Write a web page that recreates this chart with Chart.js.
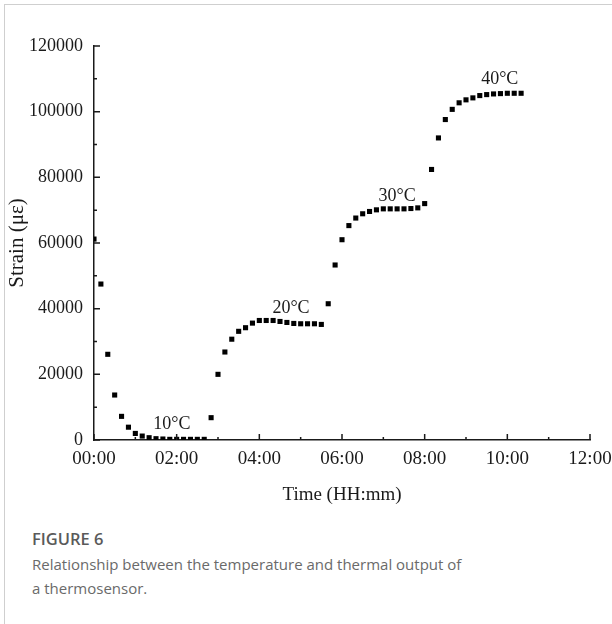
<!DOCTYPE html>
<html>
<head>
<meta charset="utf-8">
<script src="https://cdn.jsdelivr.net/npm/chart.js@4.4.1/dist/chart.umd.min.js"></script>
<style>
  html, body { margin: 0; padding: 0; background: #fff; }
  body { width: 612px; height: 624px; position: relative; overflow: hidden; }
  .frame { position: absolute; left: 4px; top: 4px; right: 0; bottom: 0; border-left: 1px solid #cfcfcf; border-top: 1px solid #cfcfcf; }
  #wrap { position: absolute; left: 0; top: 0; width: 612px; height: 510px; }
  .caption { position: absolute; left: 32px; top: 528px; font-family: "Open Sans", sans-serif; color: #6a6a6a; }
  .caption .fig { font-size: 16.5px; font-weight: 600; color: #5a5a5a; line-height: 22px; }
  .caption .txt { font-size: 15px; line-height: 24px; margin-top: 2px; }
</style>
</head>
<body>
<div class="frame"></div>
<div id="wrap"><canvas id="strainChart" width="612" height="510"></canvas></div>
<div class="caption">
  <div class="fig">FIGURE 6</div>
  <div class="txt">Relationship between the temperature and thermal output of<br>a thermosensor.</div>
</div>
<script>
// time in minutes since start, strain in micro-strain
const times = [0, 10, 20, 30, 40, 50, 60, 70, 80, 90, 100, 110, 120, 130, 140, 150, 160,
    170, 180, 190, 200, 210, 220, 230, 240, 250, 260, 270, 280, 290, 300, 310, 320, 330,
    340, 350, 360, 370, 380, 390, 400, 410, 420, 430, 440, 450, 460, 470, 480,
    490, 500, 510, 520, 530, 540, 550, 560, 570, 580, 590, 600, 610, 620];
const strain = [61200, 47500, 26100, 13700, 7200, 3900, 2000, 1200, 700, 400, 300, 200, 200, 200, 200, 200, 200,
    6800, 20000, 26800, 30700, 33100, 34200, 35600, 36400, 36400, 36400, 36100, 35800, 35500, 35400, 35400, 35400, 35200,
    41500, 53300, 61000, 65300, 67600, 68900, 69600, 70100, 70400, 70400, 70400, 70400, 70500, 70700, 72000,
    82400, 92000, 97600, 100700, 102700, 103600, 104200, 104900, 105200, 105400, 105500, 105600, 105600, 105600];

const xTickLabels = ['00:00', '02:00', '04:00', '06:00', '08:00', '10:00', '12:00'];
const yTickLabels = ['0', '20000', '40000', '60000', '80000', '100000', '120000'];

// temperature labels, placed in data coordinates
const tempLabels = ['10°C', '20°C', '30°C', '40°C'];
const tempLabelTimes = [113, 286, 440, 589];
const tempLabelStrains = [4900, 40000, 74200, 110000];

const ink = '#1a1a1a';
Chart.defaults.font.family = '"Liberation Serif", "Times New Roman", serif';
Chart.defaults.color = ink;

// ticks drawn inside the axes, majors plus a minor between each pair
const inwardTicks = {
    id: 'inwardTicks',
    afterDraw(chart) {
        const { ctx, chartArea, scales } = chart;
        const x = scales.x, y = scales.y;
        ctx.save();
        ctx.strokeStyle = ink;
        ctx.lineWidth = 1.5;
        ctx.beginPath();
        x.ticks.forEach((t, i) => {
            const px = x.getPixelForValue(t.value);
            ctx.moveTo(px, chartArea.bottom);
            ctx.lineTo(px, chartArea.bottom - 6);
            if (i < x.ticks.length - 1) {
                const mx = x.getPixelForValue((t.value + x.ticks[i + 1].value) / 2);
                ctx.moveTo(mx, chartArea.bottom);
                ctx.lineTo(mx, chartArea.bottom - 3);
            }
        });
        y.ticks.forEach((t, i) => {
            const py = y.getPixelForValue(t.value);
            ctx.moveTo(chartArea.left, py);
            ctx.lineTo(chartArea.left + 6, py);
            if (i < y.ticks.length - 1) {
                const my = y.getPixelForValue((t.value + y.ticks[i + 1].value) / 2);
                ctx.moveTo(chartArea.left, my);
                ctx.lineTo(chartArea.left + 3, my);
            }
        });
        ctx.stroke();
        ctx.restore();
    }
};

const tempText = {
    id: 'tempText',
    afterDatasetsDraw(chart) {
        const { ctx, scales } = chart;
        ctx.save();
        ctx.font = '18px "Liberation Serif", serif';
        ctx.fillStyle = ink;
        ctx.textAlign = 'center';
        ctx.textBaseline = 'middle';
        tempLabels.forEach((txt, i) => {
            ctx.fillText(txt, scales.x.getPixelForValue(tempLabelTimes[i]), scales.y.getPixelForValue(tempLabelStrains[i]));
        });
        ctx.restore();
    }
};

const ctx = document.getElementById('strainChart').getContext('2d');
new Chart(ctx, {
    type: 'scatter',
    data: {
        datasets: [{
            data: times.map((t, i) => ({ x: t, y: strain[i] })),
            backgroundColor: '#000',
            borderWidth: 0,
            pointStyle: 'rect',
            pointRadius: 3.6,
            pointBorderWidth: 0,
            showLine: false
        }]
    },
    options: {
        responsive: false,
        animation: false,
        layout: { padding: { top: 46, right: 22, left: 0, bottom: 0 } },
        plugins: { legend: { display: false }, tooltip: { enabled: false } },
        scales: {
            x: {
                type: 'linear',
                min: 0, max: 720,
                grid: { display: false },
                border: { display: true, color: ink, width: 1.5 },
                ticks: {
                    stepSize: 120,
                    padding: 0,
                    font: { size: 19 },
                    maxRotation: 0,
                    callback: (v, i) => xTickLabels[i]
                },
                title: { display: true, text: 'Time (HH:mm)', font: { size: 19 }, padding: { top: 4, bottom: 4 } },
                afterFit: s => { s.height = 70; }
            },
            y: {
                min: 0, max: 120000,
                grid: { display: false },
                border: { display: true, color: ink, width: 1.5 },
                ticks: {
                    stepSize: 20000,
                    padding: 3,
                    font: { size: 18 },
                    callback: (v, i) => yTickLabels[i]
                },
                title: { display: true, text: 'Strain (με)', font: { size: 21 }, padding: { top: 5, bottom: 4 } },
                afterFit: s => { s.width = 94; }
            }
        }
    },
    plugins: [inwardTicks, tempText]
});
</script>
</body>
</html>
